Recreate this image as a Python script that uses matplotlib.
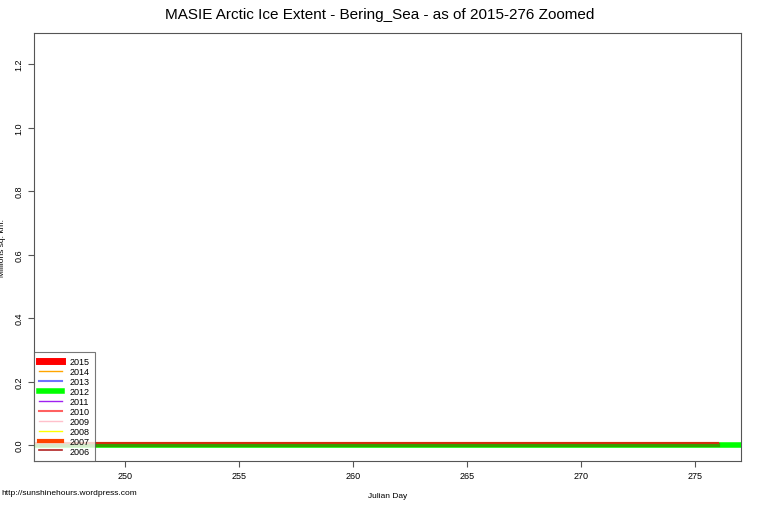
import numpy as np
import matplotlib
matplotlib.use('Agg')
from matplotlib import pyplot as plt

years = ['2015', '2014', '2013', '2012', '2011', '2010', '2009', '2008', '2007', '2006']
colors = ['#ff0000', '#ffa500', '#7070ff', '#00ff00', '#a020f0', '#ff6060',
          '#ffc0cb', '#ffff00', '#ff4500', '#b22222']
widths = [5, 1, 1.5, 4, 1, 1.5, 1, 1, 3, 1.2]

days = np.arange(246, 277)
days_2012 = np.arange(246, 281)
# extent values (millions sq km), all essentially zero in this window
extent = {
    '2015': [0.008] * len(days),
    '2014': [0.0] * len(days),
    '2013': [0.0] * len(days),
    '2012': [0.0] * len(days_2012),
    '2011': [0.0] * len(days),
    '2010': [0.006] * len(days),
    '2009': [0.0] * len(days),
    '2008': [0.0] * len(days),
    '2007': [0.0] * len(days),
    '2006': [0.0] * len(days),
}

plt.rcParams['font.family'] = ['Liberation Sans', 'DejaVu Sans']
fig = plt.figure(figsize=(7.6, 5.06), dpi=100)
ax = fig.add_axes([34/760, 44/506, 707/760, 428/506])

order = ['2006', '2008', '2009', '2011', '2013', '2014', '2010', '2007', '2012', '2015']
handles = {}
for y in order:
    i = years.index(y)
    x = days_2012 if y == '2012' else days
    if y == '2012':
        ln, = ax.plot(x, extent[y], color='#00ff00', lw=4, zorder=3)
        ax.plot(x[:-4], extent[y][:-4], color='#33a000', lw=3, zorder=4)
    elif y == '2015':
        ln, = ax.plot([], [], color=colors[i], lw=widths[i])
        ax.plot(x, extent[y], color='#d03010', lw=1.5, zorder=5)
    else:
        ln, = ax.plot(x, extent[y], color=colors[i], lw=widths[i], zorder=2)
    handles[y] = ln

ax.set_xlim(246.0, 277.0)
ax.set_ylim(-0.05, 1.298)
ax.set_xticks([250, 255, 260, 265, 270, 275])
ax.set_yticks([0.0, 0.2, 0.4, 0.6, 0.8, 1.0, 1.2])
ax.set_yticklabels(['0.0', '0.2', '0.4', '0.6', '0.8', '1.0', '1.2'], rotation=90, va='center')
ax.tick_params(labelsize=6.5, length=4, color='#555555')
for s in ax.spines.values():
    s.set_color('#555555')

ax.set_xlabel('Julian Day', fontsize=6, labelpad=8)
ax.set_ylabel('Millions sq. km.', fontsize=6, labelpad=6)
fig.suptitle('MASIE Arctic Ice Extent - Bering_Sea - as of 2015-276 Zoomed', fontsize=11, y=0.985)
fig.text(0.002, 0.022, 'http://sunshinehours.wordpress.com', fontsize=6)

leg = ax.legend([handles[y] for y in years], years, loc='lower left', fontsize=6.5,
                fancybox=False, edgecolor='#555555', borderaxespad=0,
                handlelength=2.5, labelspacing=0.1, borderpad=0.6)
leg.get_frame().set_linewidth(0.8)

fig.savefig('out.png', dpi=100)
